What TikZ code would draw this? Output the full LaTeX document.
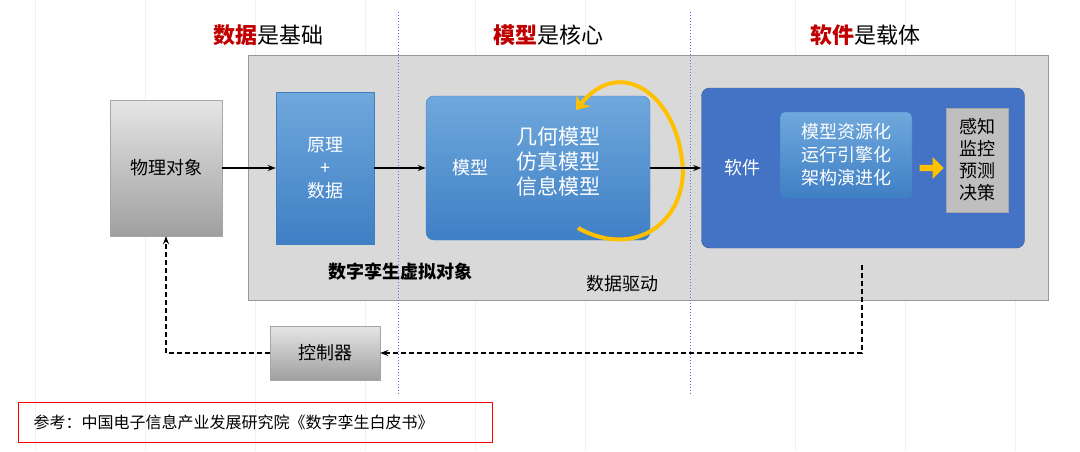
\documentclass[tikz,border=0pt]{standalone}
\usepackage{fontspec}
\setmainfont{Noto Sans CJK SC}
\newfontfamily\cjk{Noto Sans CJK SC}
\usetikzlibrary{arrows.meta,shapes.arrows}
\definecolor{myred}{HTML}{C00000}
\definecolor{bluea}{HTML}{6FA8DC}
\definecolor{blueb}{HTML}{3F7FC4}
\definecolor{bluec}{HTML}{4472C4}
\definecolor{myyel}{HTML}{FFC000}
\begin{document}
\begin{tikzpicture}[x=1pt,y=-1pt,
  t/.style={font=\fontsize{22}{24}\selectfont},
  w/.style={text=white,align=center,font=\fontsize{18}{23}\selectfont},
  gbox/.style={draw=gray!70,top color=gray!20,bottom color=gray!75},
  bbox/.style={draw=blueb,top color=bluea,bottom color=blueb},
  arr/.style={-{Stealth[length=8pt]},line width=1.2pt},
  darr/.style={arr,dash pattern=on 5pt off 3pt}]
\useasboundingbox (0,0) rectangle (1080,451);
\fill[white] (0,0) rectangle (1080,451);
\foreach \x in {35,145,255,365,475,585,795,905,1015} \draw[gray!12] (\x,0)--(\x,451);
\node[t] at (268,35) {\textcolor{myred}{\textbf{数据}}是基础};
\node[t] at (548,35) {\textcolor{myred}{\textbf{模型}}是核心};
\node[t] at (865,35) {\textcolor{myred}{\textbf{软件}}是载体};
\node[draw=gray!80,fill=gray!30,minimum width=800,minimum height=245,anchor=north west] (bg) at (248,55) {};
\draw[blue!60,dotted,line width=1pt] (398,12)--(398,395);
\draw[blue!60,dotted,line width=1pt] (690,12)--(690,395);
\node[gbox,minimum width=112,minimum height=136,font=\fontsize{18}{22}\selectfont] (phy) at (166,168) {物理对象};
\node[bbox,minimum width=98,minimum height=152,w] (yl) at (325,168) {原理\\+\\数据};
\node[bbox,rounded corners=8,minimum width=224,minimum height=144] (mx) at (538,168) {};
\node[w] at (470,168) {模型};
\node[w,font=\fontsize{21}{25}\selectfont] at (558,162) {几何模型\\仿真模型\\信息模型};
\draw[myyel,line width=4pt,-{Stealth[length=12pt,width=18pt]}] (578,228) .. controls (640,262) and (690,215) .. (682,160) .. controls (675,95) and (620,55) .. (576,110);
\node[fill=bluec,draw=bluec!80!black,rounded corners=8,minimum width=323,minimum height=160] (sw) at (863,168) {};
\node[w] at (742,168) {软件};
\node[bbox,rounded corners=5,minimum width=132,minimum height=86,w] (in) at (846,155) {模型资源化\\运行引擎化\\架构演进化};
\node[single arrow,fill=myyel,minimum height=24,minimum width=22,single arrow head extend=3pt,inner sep=1pt] at (930,168) {};
\node[fill=gray!50,draw=gray!70,minimum width=62,minimum height=104,align=center,font=\fontsize{18}{22}\selectfont] (gz) at (977,160) {感知\\监控\\预测\\决策};
\node[font=\bfseries\fontsize{18}{20}\selectfont] at (400,272) {数字孪生虚拟对象};
\node[font=\fontsize{18}{20}\selectfont] at (622,284) {数据驱动};
\node[gbox,minimum width=110,minimum height=54,font=\fontsize{18}{20}\selectfont] (ctl) at (325,353) {控制器};
\draw[arr] (phy.east)--(yl.west);
\draw[arr] (yl.east)--(mx.west);
\draw[arr] (mx.east)--(sw.west);
\coordinate (s) at (862,265);
\draw[darr] (s)|-(ctl.east);
\draw[darr] (ctl.west)-|(phy.south);
\node[draw=red,line width=1.2pt,minimum width=474,minimum height=40,anchor=north west] (ref) at (18,402) {};
\node[anchor=west,font=\fontsize{16}{20}\selectfont] at (30,422) {参考：中国电子信息产业发展研究院《数字孪生白皮书》};
\end{tikzpicture}
\end{document}
